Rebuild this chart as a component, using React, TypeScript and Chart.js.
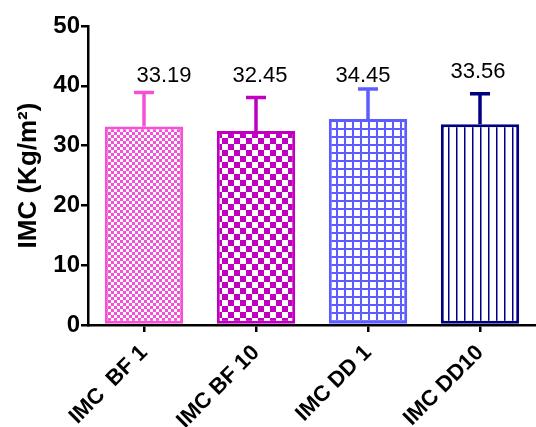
import React, { useEffect, useRef } from "react";
import { Chart, registerables } from "chart.js";

Chart.register(...registerables);

const categories = ["IMC  BF 1", "IMC BF 10", "IMC DD 1", "IMC DD10"];
const means = [33.19, 32.45, 34.45, 33.56];
const sds = [5.7, 5.6, 5.0, 5.1];
const valueLabels = ["33.19", "32.45", "34.45", "33.56"];
const yTicks = [0, 10, 20, 30, 40, 50];

const colors = ["#F550D8", "#C000C0", "#5C5CFF", "#000080"];
const labelOffsets = [20, 4, -5, -2];
const labelValueY = [41.6, 41.6, 41.6, 42.4];

const FONT = "Arial, 'Liberation Sans', sans-serif";

function makePattern(kind: number, color: string): CanvasPattern | string {
  const c = document.createElement("canvas");
  let size = 8;
  if (kind === 0) size = 6;
  if (kind === 1) size = 12;
  c.width = size;
  c.height = size;
  const g = c.getContext("2d");
  if (!g) return color;
  g.fillStyle = "#ffffff";
  g.fillRect(0, 0, size, size);
  g.fillStyle = color;
  if (kind === 0 || kind === 1) {
    const h = size / 2;
    g.fillRect(0, 0, h, h);
    g.fillRect(h, h, h, h);
  } else if (kind === 2) {
    g.fillRect(0, 0, 2, size);
    g.fillRect(0, 0, size, 2);
  } else {
    g.fillRect(0, 0, 1.5, size);
  }
  const p = g.createPattern(c, "repeat");
  return p || color;
}

const errorBarPlugin = {
  id: "errorBars",
  afterDatasetsDraw(chart: any) {
    const ctx = chart.ctx;
    const meta = chart.getDatasetMeta(0);
    const y = chart.scales.y;
    ctx.save();
    meta.data.forEach((bar: any, i: number) => {
      const top = y.getPixelForValue(means[i] + sds[i]);
      ctx.strokeStyle = colors[i];
      ctx.lineWidth = 3.5;
      ctx.beginPath();
      ctx.moveTo(bar.x, bar.y);
      ctx.lineTo(bar.x, top);
      ctx.moveTo(bar.x - 10, top);
      ctx.lineTo(bar.x + 10, top);
      ctx.stroke();
    });
    ctx.fillStyle = "#000";
    ctx.font = `22px ${FONT}`;
    ctx.textAlign = "center";
    ctx.textBaseline = "middle";
    meta.data.forEach((bar: any, i: number) => {
      ctx.fillText(valueLabels[i], bar.x + labelOffsets[i], y.getPixelForValue(labelValueY[i]));
    });
    ctx.restore();
  },
};

export default function App() {
  const ref = useRef<HTMLCanvasElement>(null);
  useEffect(() => {
    if (!ref.current) return;
    const patterns = colors.map((c, i) => makePattern(i, c));
    const chart = new Chart(ref.current, {
      type: "bar",
      data: {
        labels: categories,
        datasets: [
          {
            data: means,
            backgroundColor: patterns as any,
            borderColor: colors,
            borderWidth: 3,
            borderSkipped: false,
            barPercentage: 0.7,
            categoryPercentage: 1,
          },
        ],
      },
      options: {
        responsive: false,
        animation: false,
        layout: { padding: { top: 26, right: 0, left: 0, bottom: 0 } },
        plugins: { legend: { display: false }, tooltip: { enabled: false } },
        scales: {
          x: {
            grid: {
              display: true,
              drawOnChartArea: false,
              drawTicks: true,
              tickLength: 7,
              color: "#000",
              lineWidth: 2.5,
              offset: false,
            },
            border: { display: true, color: "#000", width: 2.5 },
            ticks: {
              color: "#000",
              font: { family: FONT, size: 22, weight: "bold" },
              maxRotation: 45,
              minRotation: 45,
              padding: 8,
            },
            afterFit(scale: any) {
              scale.height = 102;
            },
          },
          y: {
            min: 0,
            max: 50,
            afterBuildTicks(scale: any) {
              scale.ticks = yTicks.map((v) => ({ value: v }));
            },
            grid: {
              display: true,
              drawOnChartArea: false,
              drawTicks: true,
              tickLength: 7,
              color: "#000",
              lineWidth: 2.5,
            },
            border: { display: true, color: "#000", width: 2.5 },
            ticks: {
              color: "#000",
              font: { family: FONT, size: 24, weight: "bold" },
              padding: 1,
            },
            title: {
              display: true,
              text: "IMC (Kg/m²)",
              color: "#000",
              font: { family: FONT, size: 26, weight: "bold" },
              padding: { top: 13, bottom: 0 },
            },
            afterFit(scale: any) {
              scale.width = 88;
            },
          },
        },
      },
      plugins: [errorBarPlugin],
    });
    return () => chart.destroy();
  }, []);
  return (
    <div style={{ position: "fixed", left: 0, top: 0, width: 536, height: 427, background: "#fff" }}>
      <canvas ref={ref} width={536} height={427} style={{ display: "block" }} />
    </div>
  );
}
